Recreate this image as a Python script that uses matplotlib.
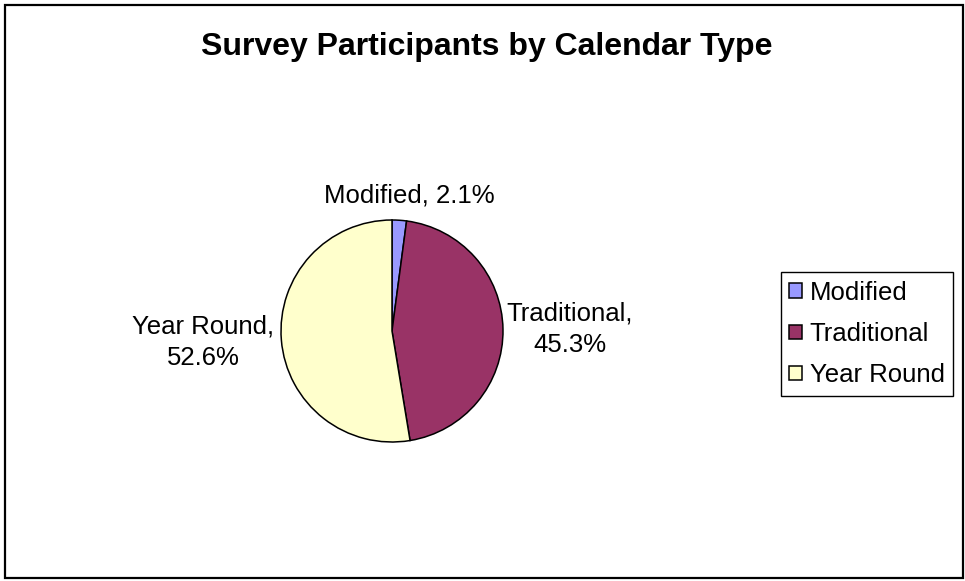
import matplotlib
matplotlib.use("Agg")
import matplotlib.pyplot as plt
from matplotlib.patches import Rectangle

plt.rcParams['font.family'] = ['Liberation Sans', 'DejaVu Sans']

title = "Survey Participants by Calendar Type"
categories = ["Modified", "Traditional", "Year Round"]
shares = [2.1, 45.3, 52.6]
colors = ["#9999FF", "#993366", "#FFFFCC"]

W, H = 965, 581
fig = plt.figure(figsize=(W / 100, H / 100), dpi=100)
ax = fig.add_axes([0, 0, 1, 1])

wedges, texts = ax.pie(
    shares, colors=colors, startangle=90, counterclock=False,
    center=(392, H - 331), radius=111,
    labels=[f"{c}, {v}%" for c, v in zip(categories, shares)],
    labeldistance=1.3,
    wedgeprops=dict(edgecolor='black', linewidth=1.1),
    textprops=dict(fontsize=18.5),
)

# pie() resets the view, so fix the pixel-based limits afterwards
ax.set_xlim(0, W)
ax.set_ylim(0, H)
ax.set_aspect('equal')
ax.axis('off')

# outer chart border
ax.add_patch(Rectangle((5, 3), 958, 573, fill=False, edgecolor='black', lw=1.6))

# label placement in pixel coordinates
label_pos = [(409, H - 195), (570, H - 329), (203, H - 342)]
label_txt = [f"{categories[0]}, {shares[0]}%",
             f"{categories[1]},\n{shares[1]}%",
             f"{categories[2]},\n{shares[2]}%"]
for t, p, s in zip(texts, label_pos, label_txt):
    t.set_position(p)
    t.set_text(s)
    t.set_ha('center')
    t.set_va('center')
    t.set_multialignment('center')
    t.set_linespacing(1.4)

ax.text(487, H - 47, title, ha='center', va='center', fontsize=23, fontweight='bold')

leg = ax.legend(wedges, categories, loc='center', bbox_to_anchor=(867 / W, 1 - 334 / H),
                bbox_transform=fig.transFigure, fontsize=18.5, frameon=True, fancybox=False,
                edgecolor='black', facecolor='white', framealpha=1,
                handlelength=0.48, handleheight=0.48, handletextpad=0.3,
                labelspacing=0.68, borderpad=0.34, borderaxespad=0)
leg.get_frame().set_linewidth(1.0)

fig.savefig("out.png", dpi=100)
